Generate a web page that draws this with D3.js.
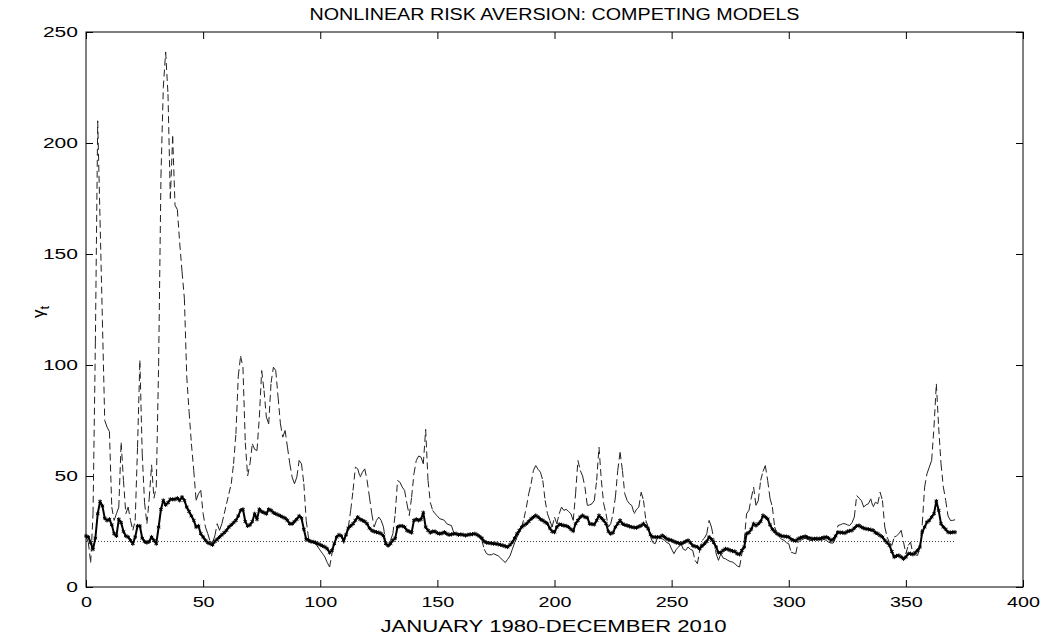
<!DOCTYPE html>
<html>
<head>
<meta charset="utf-8">
<script src="https://cdn.jsdelivr.net/npm/d3@7/dist/d3.min.js"></script>
<style>
html,body{margin:0;padding:0;background:#fff;}
text{font-family:"Liberation Sans",Arial,Helvetica,sans-serif;fill:#000;}
</style>
</head>
<body>
<svg id="chart" width="1045" height="635"></svg>
<script>
// ---- data (month index 0..371 = January 1980 .. December 2010) ----
const titleText = "NONLINEAR RISK AVERSION: COMPETING MODELS";
const xLabelText = "JANUARY 1980-DECEMBER 2010";
const xTicks = [0, 50, 100, 150, 200, 250, 300, 350, 400];
const yTicks = [0, 50, 100, 150, 200, 250];
const baselineLevel = 20.5;

// thick line with markers
const modelThick = [
23,22.5,20,17,22,33,38.5,36.5,31,30,30.5,28,24,23,30.5,29,25,23,22.5,21,
19.5,22.5,27.5,27.5,22,20.5,20,20.5,22.5,21,19.5,27,35,39,37,38,39.5,39.5,39.5,40,
39,40.5,39,36,34,32,30,27,27.5,24,22.5,21,20,19.5,19,20.5,21.5,22.5,23.5,24.5,
25.5,27,28,29,30,32,34.5,35,29.5,27.5,28,29.5,33,30.5,35,34,33.5,33,35,34.5,
33.5,33,32.5,32,31.5,31,30,28.5,28.5,29.5,30.5,32,31,26,21.5,21,20.5,20.3,20,19.5,
19,18.5,18,17.2,15.5,16.5,19.5,22.5,23.5,23,21,23.5,26.5,27.5,28.5,30,31.5,30.5,30,29.5,
28.5,26.5,25.5,25,24.7,24.5,24,23,19.5,18.7,19.5,21,22,27,27.5,27.5,27,25.5,25,24.5,
30,30.5,30,30.5,33.5,27,25.5,24.5,25,25,24.3,24,24.2,24.7,24,23.5,23.7,24,24,23.5,
23.7,23.5,23.2,23.5,23.7,23.8,24,23.5,22.8,22,20.5,20,19.8,19.7,19.5,19.5,19.2,19,18.7,18.3,
18,19,20.2,22,24,25.5,27,27.8,28.5,29.5,30.7,31.5,32.2,31.5,30.5,30,29.2,28.5,26.5,25,
24.7,27,28.2,28,27.7,27.5,27,26,25.2,28.5,30,31.5,32.2,31.5,31.2,28.5,28.3,28.2,30,32.2,
31,30,28.5,25,24,24.5,27,28.5,30,28.5,28,27.7,27.3,27,26.8,26.7,27.2,27.7,28.5,27.5,
26.2,23.5,22.5,22.5,22.5,22.5,23.2,22.5,21.7,21.3,21,20.5,20,19.8,19.5,20,20.5,21,20,18.7,
18.3,18,17.2,18.5,19.5,20.5,22.5,21.5,20,18,15.5,15.5,16.5,17.2,17,16.5,16.2,16,15,14.7,
16.5,18,24,24.5,26,28.5,27.7,28.5,29.5,32.2,31.5,30.7,28,26,25,24,23.5,23,22.8,22.7,
22.5,21.5,21,20.8,21.7,22.2,22.5,22.8,22.3,22,21.7,21.7,21.8,21.7,22,22.3,22.5,22,21,21.5,
23,24.7,24.5,24.5,24.3,25,25.3,25.5,26.5,27.5,27.7,27,26.5,26.2,26,25.8,25.5,24.5,24,23.2,
22.5,21,20,18.7,16,13.5,14,14.2,13.5,12.7,13.5,15,15,14.7,15.5,16.5,18,24.7,27,29.2,
30,31.5,33,38.7,34.5,28.5,27,26,24.7,24.5,24.7,24.7
];

// dashed line
const modelDashed = [
23,20,11,33,110,210,165,120,75,72,70,36,30,33,36,65,48,33,36,30,
25.5,30,63,102,60,38,28.5,40,55,40,45,100,185,225,241,222,175,203,172,170,
155,142,130,95,79,64.5,52.5,39,42,43.5,33,27,24,20.5,20,23,28.5,25.5,28.5,33,
37.5,42,46.5,55.5,69,95,104,99,65,50,55.5,64.5,62,61.5,76.5,97.5,88.5,76.5,73.5,92,
99,97.5,85.5,73.5,67.5,70.5,63,55.5,49.5,46.5,49.5,57,55.5,46.5,30,22,20.5,20,19.5,18,
16.5,15,13.5,11,9,15,19.5,23,23.2,23,19.5,24,27,34.5,43.5,54,53.2,49.5,51.7,53.2,
48,40.5,33,27,30,31.5,30,27,19.5,18,21,24,33,48,47.2,45,43.5,37.5,32.2,40.5,
51,57,59,58.5,55.5,71,48,38,34.5,33,32,30.7,30.5,30,28.5,28,27.7,24.5,24,23.5,
24,23.5,23,23.5,24,23.5,24,23.5,22.5,21,17,15,14.5,14.5,15,14.5,14,13,12,11,
12.5,14,17,20,22.5,24.5,27,31,36,42,46.5,52.5,54.7,53,51.7,48,39,33,30,27,
31.5,28.5,33,36,34.5,35,34,33,30,42,57,52.5,50,45,36.7,37,37.5,39,48,63,
48,37.5,33,27,28.5,33,40.5,52.5,60.7,52.5,42,39,37.5,36.7,33,35,36,42.7,39,30,
27,22.5,20,19.5,22.5,22,21.7,21,20,19.5,17,15,17,18,19.5,17,16.5,18,17,16.5,
12,10.5,16.5,21,22,24,30,27,21.7,15,12,15,13,12.7,12,11.5,11.2,10.5,9.5,9,
15,21,33,34.5,40,45,36.7,39,48,52,54.7,48,40,36,27,24,22.5,21.5,21,20,
19.5,15.7,15.3,15,20.2,21,21.5,22,21.5,21,21,21.5,21,21.5,21,21.5,21,20.2,19.8,19.8,
22,27.7,28,28.5,28.5,28,27.7,29,31.5,41.2,40,39,36,37,37.5,39.7,36,38.2,37.5,42.7,
39,27,22.5,20,18.7,22.5,23,24,25.5,20.2,15,18.7,20.2,15,14.5,14.2,18,28.5,45,51,
54,57,72,91.5,72,55.5,45,39,32,30,30,30.3
];

// ---- drawing ----
const W = 1045, H = 635;
const M = {left: 86, right: 1023, top: 32, bottom: 587};
const svg = d3.select("#chart");
svg.append("rect").attr("width", W).attr("height", H).attr("fill", "#fff");

const x = d3.scaleLinear().domain([0, 400]).range([M.left, M.right]);
const y = d3.scaleLinear().domain([0, 250]).range([M.bottom, M.top]);

const plot = svg.append("g");

// baseline dotted
plot.append("line")
  .attr("x1", x(0)).attr("x2", x(modelThick.length - 1))
  .attr("y1", y(baselineLevel)).attr("y2", y(baselineLevel))
  .attr("stroke", "#444").attr("stroke-width", 1)
  .attr("stroke-dasharray", "1,2");

// dashed series: dash pattern restarts on every segment (as in the original renderer)
const segs = d3.pairs(modelDashed.map((v, i) => [i, v]));
plot.append("g").selectAll("line").data(segs).enter().append("line")
  .attr("x1", d => x(d[0][0])).attr("y1", d => y(d[0][1]))
  .attr("x2", d => x(d[1][0])).attr("y2", d => y(d[1][1]))
  .attr("stroke", "#222").attr("stroke-width", 1)
  .attr("stroke-dasharray", "7,4");

// thick series
const line = d3.line().x((d, i) => x(i)).y(d => y(d));
plot.append("path").datum(modelThick)
  .attr("d", line).attr("fill", "none")
  .attr("stroke", "#000").attr("stroke-width", 2)
  .attr("stroke-linejoin", "round");

const sym = d3.symbol(d3.symbolAsterisk, 12);
plot.selectAll("path.mk").data(modelThick).enter().append("path")
  .attr("class", "mk")
  .attr("transform", (d, i) => `translate(${x(i)},${y(d)})`)
  .attr("d", sym).attr("fill", "none").attr("stroke", "#000").attr("stroke-width", 1);

// axes box
svg.append("rect")
  .attr("x", M.left).attr("y", M.top)
  .attr("width", M.right - M.left).attr("height", M.bottom - M.top)
  .attr("fill", "none").attr("stroke", "#000").attr("stroke-width", 1);

const tickLen = 7;
const gx = svg.append("g").attr("transform", `translate(0,${M.bottom})`)
  .call(d3.axisBottom(x).tickValues(xTicks).tickSizeInner(-tickLen).tickSizeOuter(0).tickPadding(9));
const gxTop = svg.append("g").attr("transform", `translate(0,${M.top})`)
  .call(d3.axisTop(x).tickValues(xTicks).tickSizeInner(-tickLen).tickSizeOuter(0).tickFormat(""));
const gy = svg.append("g").attr("transform", `translate(${M.left},0)`)
  .call(d3.axisLeft(y).tickValues(yTicks).tickSizeInner(-tickLen).tickSizeOuter(0).tickPadding(8));
const gyR = svg.append("g").attr("transform", `translate(${M.right},0)`)
  .call(d3.axisRight(y).tickValues(yTicks).tickSizeInner(-tickLen).tickSizeOuter(0).tickFormat(""));

[gx, gxTop, gy, gyR].forEach(g => {
  g.select(".domain").remove();
  g.selectAll(".tick line").attr("stroke", "#000");
});

gx.selectAll(".tick text")
  .attr("font-size", 15)
  .attr("font-family", "Liberation Sans, Arial, sans-serif")
  .attr("fill", "#000")
  .each(function(d) {
    const s = String(d);
    d3.select(this).attr("textLength", s.length * 11).attr("lengthAdjust", "spacingAndGlyphs");
  });
gy.selectAll(".tick text")
  .attr("font-size", 15)
  .attr("font-family", "Liberation Sans, Arial, sans-serif")
  .attr("fill", "#000")
  .each(function(d) {
    const s = String(d);
    d3.select(this).attr("textLength", s.length * 11.7).attr("lengthAdjust", "spacingAndGlyphs");
  });

// title
svg.append("text")
  .attr("x", (M.left + M.right) / 2).attr("y", 20)
  .attr("text-anchor", "middle").attr("font-size", 16)
  .attr("textLength", 490).attr("lengthAdjust", "spacingAndGlyphs")
  .text(titleText);

// x label
svg.append("text")
  .attr("x", (M.left + M.right) / 2 - 1).attr("y", 632)
  .attr("text-anchor", "middle").attr("font-size", 16)
  .attr("textLength", 346).attr("lengthAdjust", "spacingAndGlyphs")
  .text(xLabelText);

// y label
const yl = svg.append("text")
  .attr("transform", "translate(44,312) rotate(-90)")
  .attr("text-anchor", "middle").attr("font-size", 17);
yl.append("tspan").text("γ");
yl.append("tspan").attr("font-size", 13).attr("dy", 5).text("t");
</script>
</body>
</html>
